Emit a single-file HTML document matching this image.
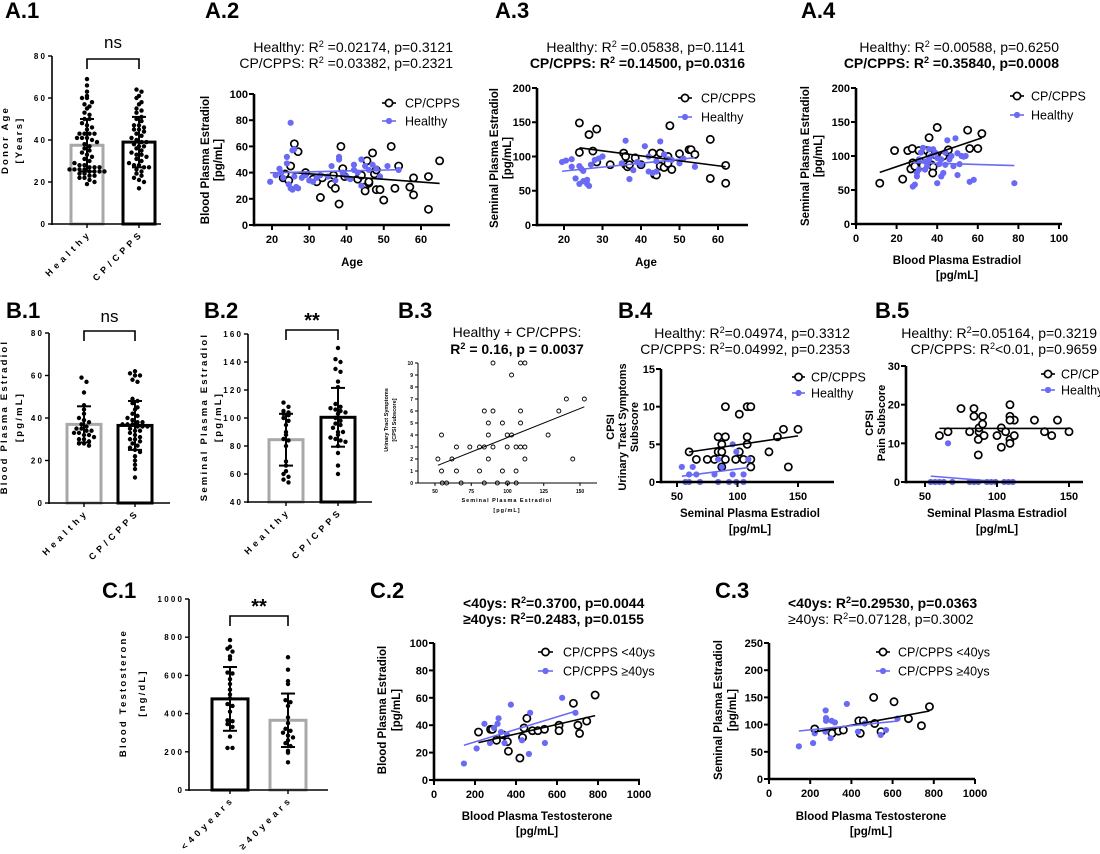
<!DOCTYPE html>
<html><head><meta charset="utf-8"><style>
html,body{margin:0;padding:0;background:#fff;}
svg{display:block;font-family:"Liberation Sans",Arial,sans-serif;}
</style></head><body>
<svg id="fig" width="1100" height="854" viewBox="0 0 1100 854" xmlns="http://www.w3.org/2000/svg"></svg>
<script>
// ===== DATA =====
const a1Categories=['Healthy','CP/CPPS'];
const a1Means=[37.5,39];
const a1Sds=[12.5,12];
const a1HealthyDots=[69,66,63,61,60,60,58,57,56,55,53,52,50,50,48,47,46,45,43,43,43,43,41,41,41,40,39,38,37,36,35,34,33,32,31,30,29,28,28,27,27,27,26,26,26,26,25,25,25,25,24,24,23,23,22,22,21,20,19];
const a1CpDots=[64,63,61,60,58,57,55,54,53,51,50,49,47,47,46,45,45,44,43,42,41,40,39,39,38,37,37,36,35,34,33,33,32,31,30,29,28,28,27,27,26,25,24,23,22,21,20,17];
const a1Ticks=[0,20,40,60,80];

const a2CpAge=[23,23.5,24.5,25,26,27,29,31,32,33,33.5,36,36.5,37,38,38.5,39,39.5,43,44,45,45,45.5,46,46,47,47.5,48,48,49,50,52,53,54,57,58,58,62,62,65];
const a2CpE2=[36,39,34,45,62,56,40,35,33,21,36,31,38,28,16,60,43,37,35,38,29,26,49,32,33,55,39,42,27,27,19,60,28,45,29,36,23,37,12,49];
const a2HeAge=[19.5,21,22,22.5,23,24,24,24.5,25,25,25.5,25.5,26,26,26.5,27,28,29,30,31,32,33,35,36,37,38,38,39,40,41,42,42,43,44,44,45,46,47,48,49,51,54];
const a2HeE2=[33,38,43,40,36,47,52,31,78,28,57,27,58,37,29,28,36,38,34,33,36,38,37,45,34,50,52,40,37,35,42,46,40,30,50,45,42,46,43,37,45,42];
const a2XTicks=[20,30,40,50,60];
const a2YTicks=[0,20,40,60,80,100];

const a3CpAge=[24,24,26.5,27.5,28.5,28.5,32,35.5,36,36,36.5,37,38.5,40,43,43.5,44,45,45,46,47,47,47.5,48,50,52.5,53,54,58,58,62,62];
const a3CpE2=[149,106,132,108,140,92,88,105,88,100,85,88,98,88,105,74,73,105,86,84,100,90,145,81,104,110,110,103,125,68,87,61];
const a3HeAge=[19.5,20.5,22,22,23,24,24,24.5,25,25,26,26,26.5,27,28,29,30,35,36,37,38,39,40,41,42,42,43,44,44,45,46,47,48,50,51,54];
const a3HeE2=[92,94,85,96,68,86,60,82,79,64,66,60,57,88,95,97,100,90,123,67,80,92,88,115,100,78,76,78,93,122,103,96,95,90,97,85];
const a3XTicks=[20,30,40,50,60];
const a3YTicks=[0,50,100,150,200];

const a4CpBlood=[11.7,19,23,25.5,27,27.7,28,29,31,32.4,33,35,36,36.4,37.2,38,37.8,39,40,43,45,45.5,55,56,60,62];
const a4CpSemen=[60,108,66,108,81,111,90,85,108,90,86,108,127,102,87,84,75,102,142,100,106,109,138,111,111,133];
const a4HeBlood=[28,29,30,31,32,33,34,34,35,36,37,38,39,40,41,42,42,43,44,44,45,46,47,48,49,50,50,51,52,53,54,56,58,40,36,31,30,78];
const a4HeSemen=[55,58,75,95,105,112,92,80,85,95,100,110,105,60,88,70,95,75,105,87,123,95,100,85,126,104,72,88,100,99,100,62,65,97,110,80,70,60];
const a4XTicks=[0,20,40,60,80,100];
const a4YTicks=[0,50,100,150,200];

const b1Means=[37,36.5];
const b1Sds=[8.5,11.5];
const b1HealthyDots=[59,57,52,46,44,42,40,39,38,37,36,35,35,34,34,33,33,32,32,31,30,30,29,28,28,27];
const b1CpDots=[62,61,60,60,58,57,49,48,47,45,44,42,41,40,39,38,38,37,37,37,36,36,36,35,34,34,33,32,31,30,30,29,28,27,26,25,24,22,20,18,16,12];
const b1Ticks=[0,20,40,60,80];

const b2Means=[84.5,100.5];
const b2Sds=[18.5,21];
const b2HealthyDots=[111,108,105,104,103,102,100,98,95,90,88,85,84,80,69,66,62,60,58,56,54];
const b2CpDots=[150,142,140,135,133,126,122,110,108,107,106,105,104,103,100,98,96,95,93,90,90,88,86,85,84,83,80,75,66,60];
const b2Ticks=[40,60,80,100,120,140,160];

const b3Semen=[52,54.5,54.5,61.7,64.8,64.8,74,80.7,80.7,84,84,86.8,86.8,86.8,90,90,90,96.5,96.5,99.8,99.8,102.8,102.8,105.9,105.9,109,109,109,109,112,112,112,128,135.4,140.6,145,153,55,58,68,84,93,100,106];
const b3Urinary=[2,4,1,2,3,1,3,3,1,3,6,4,5,2,3,6,10,5,1,3,4,4,9,3,1,3,5,6,10,10,3,2,4,6,7,2,7,0,0,0,0,0,0,0];
const b3XTicks=[50,75,100,125,150];
const b3YTicks=[0,1,2,3,4,5,6,7,8,9,10];

const b4CpSemen=[60,66,75,81,84,84,87,87,87,90,90,90,98.5,101.5,101.5,105,108,108,108,111,111,111,126,133,138,142,150];
const b4CpScore=[4,3,3,3,6,4,4,5,2,10,6,3,3,9,4,3,6,5,10,10,3,2,4,6,7,2,7];
const b4HeSemen=[54,57,60,60,63,66,69,81,84,84,87,93,96,96,99,99,105,105,109];
const b4HeScore=[2,0,1,0,2,1,0,1,3,0,2,0,5,1,4,0,1,0,3];
const b4XTicks=[50,100,150];
const b4YTicks=[0,5,10,15];

const b5CpSemen=[60,66,75,81,84,84,87,87,87.5,87.5,90,90,91,100,103,103,106,109,109,109,109,112,112,109,126,133,138,142,150];
const b5CpPain=[12,13,19,13,19,17,7,11,13,14,15,17,12,12,14,9,13,20,17,11,10,16,12,16,16,13,12,16,13];
const b5HeSemen=[54,57,60,63,69,81,84,87,93,96,99,105,108,111,66];
const b5HePain=[0,0,0,0,0,0,0,0,0,0,0,0,0,0,10];
const b5XTicks=[50,100,150];
const b5YTicks=[0,10,20,30];

const c1Categories=['< 40years','\u2265 40years'];
const c1Means=[477,365];
const c1Sds=[167,140];
const c1YoungDots=[785,750,740,725,700,685,615,610,580,555,525,500,480,450,440,410,365,360,345,330,280,220,220];
const c1OldDots=[695,630,570,555,470,460,440,380,350,320,310,300,285,275,260,245,230,205,195,145];
const c1Ticks=[0,200,400,600,800,1000];

const c2YoungT=[217,276,285,305,336,358,363,419,432,439,453,480,507,539,610,610,680,702,710,745,786];
const c2YoungE2=[35,37,37,29,33,28,21,16,31,38,45,36,36,37,40,36,56,40,34,43,62];
const c2OldT=[146,208,246,273,293,310,315,327,344,356,375,429,463,469,541,625,690];
const c2OldE2=[12,23,41,27,38,41,45,35,27,33,55,29,19,49,27,60,49];
const c2XTicks=[0,200,400,600,800,1000];
const c2YTicks=[0,20,40,60,80,100];

const c3YoungT=[222,306,337,361,436,443,458,508,513,544,607,677,740,779];
const c3YoungE2=[92,84,88,90,107,84,107,150,102,87,142,111,98,133];
const c3OldT=[145,214,222,275,277,277,274,299,304,320,378,432,465,542,568,624];
const c3OldE2=[60,66,84,126,112,107,87,75,107,104,138,87,102,81,90,111];
const c3XTicks=[0,200,400,600,800,1000];
const c3YTicks=[0,50,100,150,200,250];

// ===== HELPERS =====
const NS='http://www.w3.org/2000/svg';
const svg=document.getElementById('fig');
const BLUE='#6a6af4', GRAY='#a8a8a8';
function mk(tag,attrs,name,parent){
  const e=document.createElementNS(NS,tag);
  for(const k in attrs) e.setAttribute(k,attrs[k]);
  
  
  (parent||svg).appendChild(e);
  return e;
}
function txt(x,y,s,name,o){
  o=o||{};
  const t=mk('text',{x:x,y:y,'font-size':o.size||12,'font-weight':o.bold?'bold':'normal','text-anchor':o.anchor||'start',fill:'#000'},name,o.parent);
  if(o.ls) t.setAttribute('letter-spacing',o.ls);
  if(o.transform) t.setAttribute('transform',o.transform);
  t.textContent=s;
  return t;
}
function rtext(x,y,parts,name,o){
  o=o||{};
  const t=mk('text',{x:x,y:y,'font-size':o.size||14,'font-weight':o.bold?'bold':'normal','text-anchor':o.anchor||'start'},name);
  parts.forEach(p=>{
    const s=document.createElementNS(NS,'tspan');
    if(p[1]){s.setAttribute('font-size',(o.size||14)*0.65);s.setAttribute('dy',-5);}
    else if(p[2]){s.setAttribute('dy',5);}
    s.textContent=p[0];
    t.appendChild(s);
  });
  return t;
}
function lin(v1,p1,v2,p2){return v=>p1+(v-v1)*(p2-p1)/(v2-v1);}
function line(x1,y1,x2,y2,name,sw,col){return mk('line',{x1:x1,y1:y1,x2:x2,y2:y2,stroke:col||'#000','stroke-width':sw||1},name);}
function fit(xs,ys){
  const n=xs.length;let mx=0,my=0;for(let i=0;i<n;i++){mx+=xs[i];my+=ys[i];}mx/=n;my/=n;
  let sxy=0,sxx=0;for(let i=0;i<n;i++){sxy+=(xs[i]-mx)*(ys[i]-my);sxx+=(xs[i]-mx)**2;}
  const b=sxy/sxx;return {a:my-b*mx,b:b,min:Math.min(...xs),max:Math.max(...xs)};
}
function marker(x,y,type,name,small){
  let c;
  if(type==='open'){c=mk('circle',{cx:x,cy:y,r:small?2:3.6,fill:'#fff',stroke:'#000','stroke-width':small?0.9:1.7},name);}
  else {c=mk('circle',{cx:x,cy:y,r:3.1,fill:BLUE},name);}
  return c;
}

function scatter(P){
  const X=P.x,Y=P.y;
  P.series.forEach(s=>{
    for(let i=0;i<s.xs.length;i++){
      marker(X(s.xs[i]),Y(s.ys[i]),s.type,s.pname,P.small);
    }
  });
  P.series.forEach(s=>{
    const f=fit(s.xs,s.ys);
    line(X(f.min),Y(f.a+f.b*f.min),X(f.max),Y(f.a+f.b*f.max),s.pname+'-fit-line',P.small?1:1.6,s.type==='open'?'#000':BLUE);
  });
  const sw=P.small?1:2.6;
  line(P.left,P.top,P.left,P.bottom+sw/2,'y-axis',sw);
  line(P.left-sw/2,P.bottom,P.right,P.bottom,'x-axis',sw);
  const fs=P.small?5:11;
  P.yTicks.forEach(v=>{
    line(P.left-(P.small?3:5),Y(v),P.left,Y(v),'y-tick',P.small?1:2);
    txt(P.left-(P.small?5:6),Y(v)+fs*0.36,String(v),'y-tick-label',{size:fs,bold:true,anchor:'end'});
  });
  P.xTicks.forEach(v=>{
    line(X(v),P.bottom,X(v),P.bottom+(P.small?3:5),'x-tick',P.small?1:2);
    txt(X(v),P.bottom+(P.small?10:18),String(v),'x-tick-label',{size:fs,bold:true,anchor:'middle'});
  });
  if(P.legend){
    P.series.forEach((s,i)=>{
      const ly=P.legend.y+i*P.legend.dy;
      line(P.legend.x1,ly,P.legend.x2,ly,'legend-line',1.6,s.type==='open'?'#000':BLUE);
      marker((P.legend.x1+P.legend.x2)/2,ly,s.type,'legend-marker');
      txt(P.legend.tx,ly+4.5,s.label,'legend-entry',{size:12.5});
    });
  }
}

function barChart(P){
  const Y=P.y;
  P.means.forEach((m,i)=>{
    const c=P.centers[i];
    mk('rect',{x:c-P.hw,y:Y(m),width:2*P.hw,height:P.bottom-Y(m),fill:'none',stroke:P.colors[i],'stroke-width':3},'bar-'+P.cats[i].toLowerCase().replace(/[^a-z0-9]+/g,'-'));
  });
  P.dots.forEach((arr,i)=>{
    const c=P.centers[i];const bins={};
    arr.forEach(v=>{const b=Math.round(Y(v)/5);bins[b]=(bins[b]||[]);bins[b].push(v);});
    Object.keys(bins).forEach(b=>{
      const g=bins[b];
      g.forEach((v,k)=>{mk('circle',{cx:c+(k-(g.length-1)/2)*5,cy:Y(v),r:2.2,fill:'#000'},'data-dot');});
    });
  });
  P.means.forEach((m,i)=>{
    const c=P.centers[i];const sd=P.sds[i];
    line(c,Y(m-sd),c,Y(m+sd),'error-bar',2);
    line(c-7,Y(m-sd),c+7,Y(m-sd),'error-cap',2);
    line(c-7,Y(m+sd),c+7,Y(m+sd),'error-cap',2);
  });
  line(P.left,P.top,P.left,P.bottom+1,'y-axis',1.6);
  line(P.left-1,P.bottom,P.right,P.bottom,'x-axis',1.6);
  P.ticks.forEach(v=>{
    line(P.left-4,Y(v),P.left,Y(v),'y-tick',1.4);
    txt(P.left-7,Y(v)+3,String(v).split('').join(' '),'y-tick-label',{size:8,bold:true,anchor:'end'});
  });
  P.cats.forEach((c,i)=>{
    line(P.centers[i],P.bottom,P.centers[i],P.bottom+4,'x-tick',1.4);
    const x=P.centers[i]+3,y=P.bottom+12;
    txt(x,y,c.split('').join(' '),'category-label',{size:9,bold:true,anchor:'end',ls:0.8,transform:'rotate(-45 '+x+' '+y+')'});
  });
  const b=P.bracket;
  mk('path',{d:`M${P.centers[0]},${b.y+10} V${b.y} H${P.centers[1]} V${b.y+10}`,fill:'none',stroke:'#000','stroke-width':1.6},'significance-bracket');
  txt((P.centers[0]+P.centers[1])/2,b.ty,b.label,'significance-label',{size:b.label==='ns'?17:20,bold:b.label!=='ns',anchor:'middle'});
  P.ytitle.forEach((t,i)=>{
    txt(t.x,P.ytc,t.s,'y-axis-title',{size:9.5,bold:true,anchor:'middle',ls:2.2,transform:`rotate(-90 ${t.x} ${P.ytc})`});
  });
}
function ytitle(lines,cy,name,size){
  lines.forEach(l=>{txt(l.x,cy,l.s,name,{size:size||11.5,bold:true,anchor:'middle',transform:`rotate(-90 ${l.x} ${cy})`});});
}
function panelLabel(x,y,s){txt(x,y,s,'panel-label-'+s.toLowerCase().replace('.','-'),{size:22,bold:true});}

// ===== PANEL LABELS =====
[['A.1',5,18],['A.2',205,18],['A.3',495,18],['A.4',801,18],['B.1',6,318],['B.2',204,318],['B.3',398,318],['B.4',618,318],['B.5',875,318],['C.1',102,598],['C.2',370,598],['C.3',715,598]].forEach(p=>panelLabel(p[1],p[2],p[0]));

// ===== A.1 =====
barChart({y:lin(0,224,80,56),left:52,right:161,top:56,bottom:224,centers:[87,139],hw:16,cats:a1Categories,
  colors:[GRAY,'#000'],means:a1Means,sds:a1Sds,dots:[a1HealthyDots,a1CpDots],ticks:a1Ticks,
  bracket:{y:59,ty:48,label:'ns'},ytc:140,ytitle:[{x:8,s:'Donor Age'},{x:22,s:'[Years]'}]});

// ===== A.2 =====
rtext(453,52,[['Healthy: R'],['2',1],[' =0.02174, p=0.3121',0,1]],'stats-healthy',{anchor:'end'});
rtext(453,68,[['CP/CPPS: R'],['2',1],[' =0.03382, p=0.2321',0,1]],'stats-cpcpps',{anchor:'end'});
scatter({x:lin(20,272,60,421),y:lin(0,225,100,94),left:254,right:450,top:94,bottom:225,xTicks:a2XTicks,yTicks:a2YTicks,
  series:[{xs:a2CpAge,ys:a2CpE2,type:'open',label:'CP/CPPS',pname:'cpcpps-point'},{xs:a2HeAge,ys:a2HeE2,type:'filled',label:'Healthy',pname:'healthy-point'}],
  legend:{x1:382,x2:396,tx:405,y:103,dy:18}});
ytitle([{x:209,s:'Blood Plasma Estradiol'},{x:222,s:'[pg/mL]'}],160,'y-axis-title');
txt(352,266,'Age','x-axis-title',{size:11.5,bold:true,anchor:'middle'});

// ===== A.3 =====
rtext(745,52,[['Healthy: R'],['2',1],[' =0.05838, p=0.1141',0,1]],'stats-healthy',{anchor:'end'});
rtext(745,68,[['CP/CPPS: R'],['2',1],[' =0.14500, p=0.0316',0,1]],'stats-cpcpps',{anchor:'end',bold:true});
scatter({x:lin(20,564,60,718),y:lin(0,225,200,88),left:537,right:748,top:88,bottom:225,xTicks:a3XTicks,yTicks:a3YTicks,
  series:[{xs:a3CpAge,ys:a3CpE2,type:'open',label:'CP/CPPS',pname:'cpcpps-point'},{xs:a3HeAge,ys:a3HeE2,type:'filled',label:'Healthy',pname:'healthy-point'}],
  legend:{x1:678,x2:692,tx:701,y:98,dy:19}});
ytitle([{x:498,s:'Seminal Plasma Estradiol'},{x:511,s:'[pg/mL]'}],158,'y-axis-title');
txt(646,266,'Age','x-axis-title',{size:11.5,bold:true,anchor:'middle'});

// ===== A.4 =====
rtext(1059,52,[['Healthy: R'],['2',1],[' =0.00588, p=0.6250',0,1]],'stats-healthy',{anchor:'end'});
rtext(1059,68,[['CP/CPPS: R'],['2',1],[' =0.35840, p=0.0008',0,1]],'stats-cpcpps',{anchor:'end',bold:true});
scatter({x:lin(0,856,100,1059),y:lin(0,224,200,88),left:856,right:1062,top:88,bottom:224,xTicks:a4XTicks,yTicks:a4YTicks,
  series:[{xs:a4CpBlood,ys:a4CpSemen,type:'open',label:'CP/CPPS',pname:'cpcpps-point'},{xs:a4HeBlood,ys:a4HeSemen,type:'filled',label:'Healthy',pname:'healthy-point'}],
  legend:{x1:1010,x2:1024,tx:1031,y:96,dy:19}});
ytitle([{x:809,s:'Seminal Plasma Estradiol'},{x:822,s:'[pg/mL]'}],156,'y-axis-title');
txt(957,264,'Blood Plasma Estradiol','x-axis-title',{size:11.5,bold:true,anchor:'middle'});
txt(957,279,'[pg/mL]','x-axis-title-unit',{size:11.5,bold:true,anchor:'middle'});

// ===== B.1 =====
barChart({y:lin(0,503,80,333),left:49,right:170,top:333,bottom:503,centers:[84,135],hw:17,cats:a1Categories,
  colors:[GRAY,'#000'],means:b1Means,sds:b1Sds,dots:[b1HealthyDots,b1CpDots],ticks:b1Ticks,
  bracket:{y:331,ty:322,label:'ns'},ytc:417,ytitle:[{x:7,s:'Blood Plasma Estradiol'},{x:22,s:'[pg/mL]'}]});

// ===== B.2 =====
barChart({y:lin(40,502,160,334),left:248,right:372,top:334,bottom:502,centers:[286,338],hw:17,cats:a1Categories,
  colors:[GRAY,'#000'],means:b2Means,sds:b2Sds,dots:[b2HealthyDots,b2CpDots],ticks:b2Ticks,
  bracket:{y:330,ty:327,label:'**'},ytc:417,ytitle:[{x:207,s:'Seminal Plasma Estradiol'},{x:221,s:'[pg/mL]'}]});

// ===== B.3 =====
txt(517,337,'Healthy + CP/CPPS:','stats-title',{size:14,anchor:'middle'});
rtext(517,354,[['R'],['2',1],[' = 0.16, p = 0.0037',0,1]],'stats-combined',{anchor:'middle',bold:true});
scatter({x:lin(50,435,150,580),y:lin(0,483,10,363),left:418,right:597,top:363,bottom:483,xTicks:b3XTicks,yTicks:b3YTicks,small:true,
  series:[{xs:b3Semen,ys:b3Urinary,type:'open',label:'All',pname:'combined-point'}]});
ytitle([{x:388,s:'Urinary Tract Symptoms'},{x:396,s:'[CPSI Subscore]'}],420,'y-axis-title',5.5);
txt(507,502,'Seminal Plasma Estradiol','x-axis-title',{size:5.5,bold:true,anchor:'middle',ls:1});
txt(507,512,'[pg/mL]','x-axis-title-unit',{size:5.5,bold:true,anchor:'middle',ls:1});

// ===== B.4 =====
rtext(850,338,[['Healthy: R'],['2',1],['=0.04974, p=0.3312',0,1]],'stats-healthy',{anchor:'end'});
rtext(850,354,[['CP/CPPS: R'],['2',1],['=0.04992, p=0.2353',0,1]],'stats-cpcpps',{anchor:'end'});
scatter({x:lin(50,677,150,798),y:lin(0,482,15,369),left:661,right:834,top:369,bottom:482,xTicks:b4XTicks,yTicks:b4YTicks,
  series:[{xs:b4CpSemen,ys:b4CpScore,type:'open',label:'CP/CPPS',pname:'cpcpps-point'},{xs:b4HeSemen,ys:b4HeScore,type:'filled',label:'Healthy',pname:'healthy-point'}],
  legend:{x1:792,x2:805,tx:811,y:377,dy:16}});
ytitle([{x:614,s:'CPSI'},{x:626,s:'Urinary Tract Symptoms'},{x:638,s:'Subscore'}],427,'y-axis-title',11);
txt(750,517,'Seminal Plasma Estradiol','x-axis-title',{size:11.5,bold:true,anchor:'middle'});
txt(750,533,'[pg/mL]','x-axis-title-unit',{size:11.5,bold:true,anchor:'middle'});

// ===== B.5 =====
rtext(1097,338,[['Healthy: R'],['2',1],['=0.05164, p=0.3219',0,1]],'stats-healthy',{anchor:'end'});
rtext(1097,354,[['CP/CPPS: R'],['2',1],['<0.01, p=0.9659',0,1]],'stats-cpcpps',{anchor:'end'});
scatter({x:lin(50,925,150,1069),y:lin(0,482,30,366),left:906,right:1083,top:366,bottom:482,xTicks:b5XTicks,yTicks:b5YTicks,
  series:[{xs:b5CpSemen,ys:b5CpPain,type:'open',label:'CP/CPPS',pname:'cpcpps-point'},{xs:b5HeSemen,ys:b5HePain,type:'filled',label:'Healthy',pname:'healthy-point'}],
  legend:{x1:1041,x2:1055,tx:1061,y:374,dy:16}});
ytitle([{x:873,s:'CPSI'},{x:885,s:'Pain Subscore'}],423,'y-axis-title',11);
txt(997,517,'Seminal Plasma Estradiol','x-axis-title',{size:11.5,bold:true,anchor:'middle'});
txt(997,533,'[pg/mL]','x-axis-title-unit',{size:11.5,bold:true,anchor:'middle'});

// ===== C.1 =====
barChart({y:lin(0,790,1000,599),left:189,right:328,top:599,bottom:790,centers:[230,288],hw:18,cats:c1Categories,
  colors:['#000',GRAY],means:c1Means,sds:c1Sds,dots:[c1YoungDots,c1OldDots],ticks:c1Ticks,
  bracket:{y:616,ty:613,label:'**'},ytc:693,ytitle:[{x:126,s:'Blood Testosterone'},{x:145,s:'[ng/dL]'}]});

// ===== C.2 =====
rtext(463,608,[['<40ys: R'],['2',1],['=0.3700, p=0.0044',0,1]],'stats-young',{bold:true});
rtext(463,624,[['\u226540ys: R'],['2',1],['=0.2483, p=0.0155',0,1]],'stats-old',{bold:true});
scatter({x:lin(0,434,1000,639),y:lin(0,780,100,643),left:434,right:640,top:643,bottom:780,xTicks:c2XTicks,yTicks:c2YTicks,
  series:[{xs:c2YoungT,ys:c2YoungE2,type:'open',label:'CP/CPPS <40ys',pname:'young-point'},{xs:c2OldT,ys:c2OldE2,type:'filled',label:'CP/CPPS \u226540ys',pname:'old-point'}],
  legend:{x1:538,x2:553,tx:563,y:652,dy:19}});
ytitle([{x:386,s:'Blood Plasma Estradiol'},{x:400,s:'[pg/mL]'}],710,'y-axis-title');
txt(537,820,'Blood Plasma Testosterone','x-axis-title',{size:11.5,bold:true,anchor:'middle'});
txt(537,835,'[pg/mL]','x-axis-title-unit',{size:11.5,bold:true,anchor:'middle'});

// ===== C.3 =====
rtext(788,608,[['<40ys: R'],['2',1],['=0.29530, p=0.0363',0,1]],'stats-young',{bold:true});
rtext(788,624,[['\u226540ys: R'],['2',1],['=0.07128, p=0.3002',0,1]],'stats-old');
scatter({x:lin(0,769,1000,975),y:lin(0,779,250,643),left:769,right:975,top:643,bottom:779,xTicks:c3XTicks,yTicks:c3YTicks,
  series:[{xs:c3YoungT,ys:c3YoungE2,type:'open',label:'CP/CPPS <40ys',pname:'young-point'},{xs:c3OldT,ys:c3OldE2,type:'filled',label:'CP/CPPS \u226540ys',pname:'old-point'}],
  legend:{x1:876,x2:890,tx:898,y:652,dy:19}});
ytitle([{x:722,s:'Seminal Plasma Estradiol'},{x:736,s:'[pg/mL]'}],710,'y-axis-title');
txt(871,820,'Blood Plasma Testosterone','x-axis-title',{size:11.5,bold:true,anchor:'middle'});
txt(871,835,'[pg/mL]','x-axis-title-unit',{size:11.5,bold:true,anchor:'middle'});
</script>
</body></html>
